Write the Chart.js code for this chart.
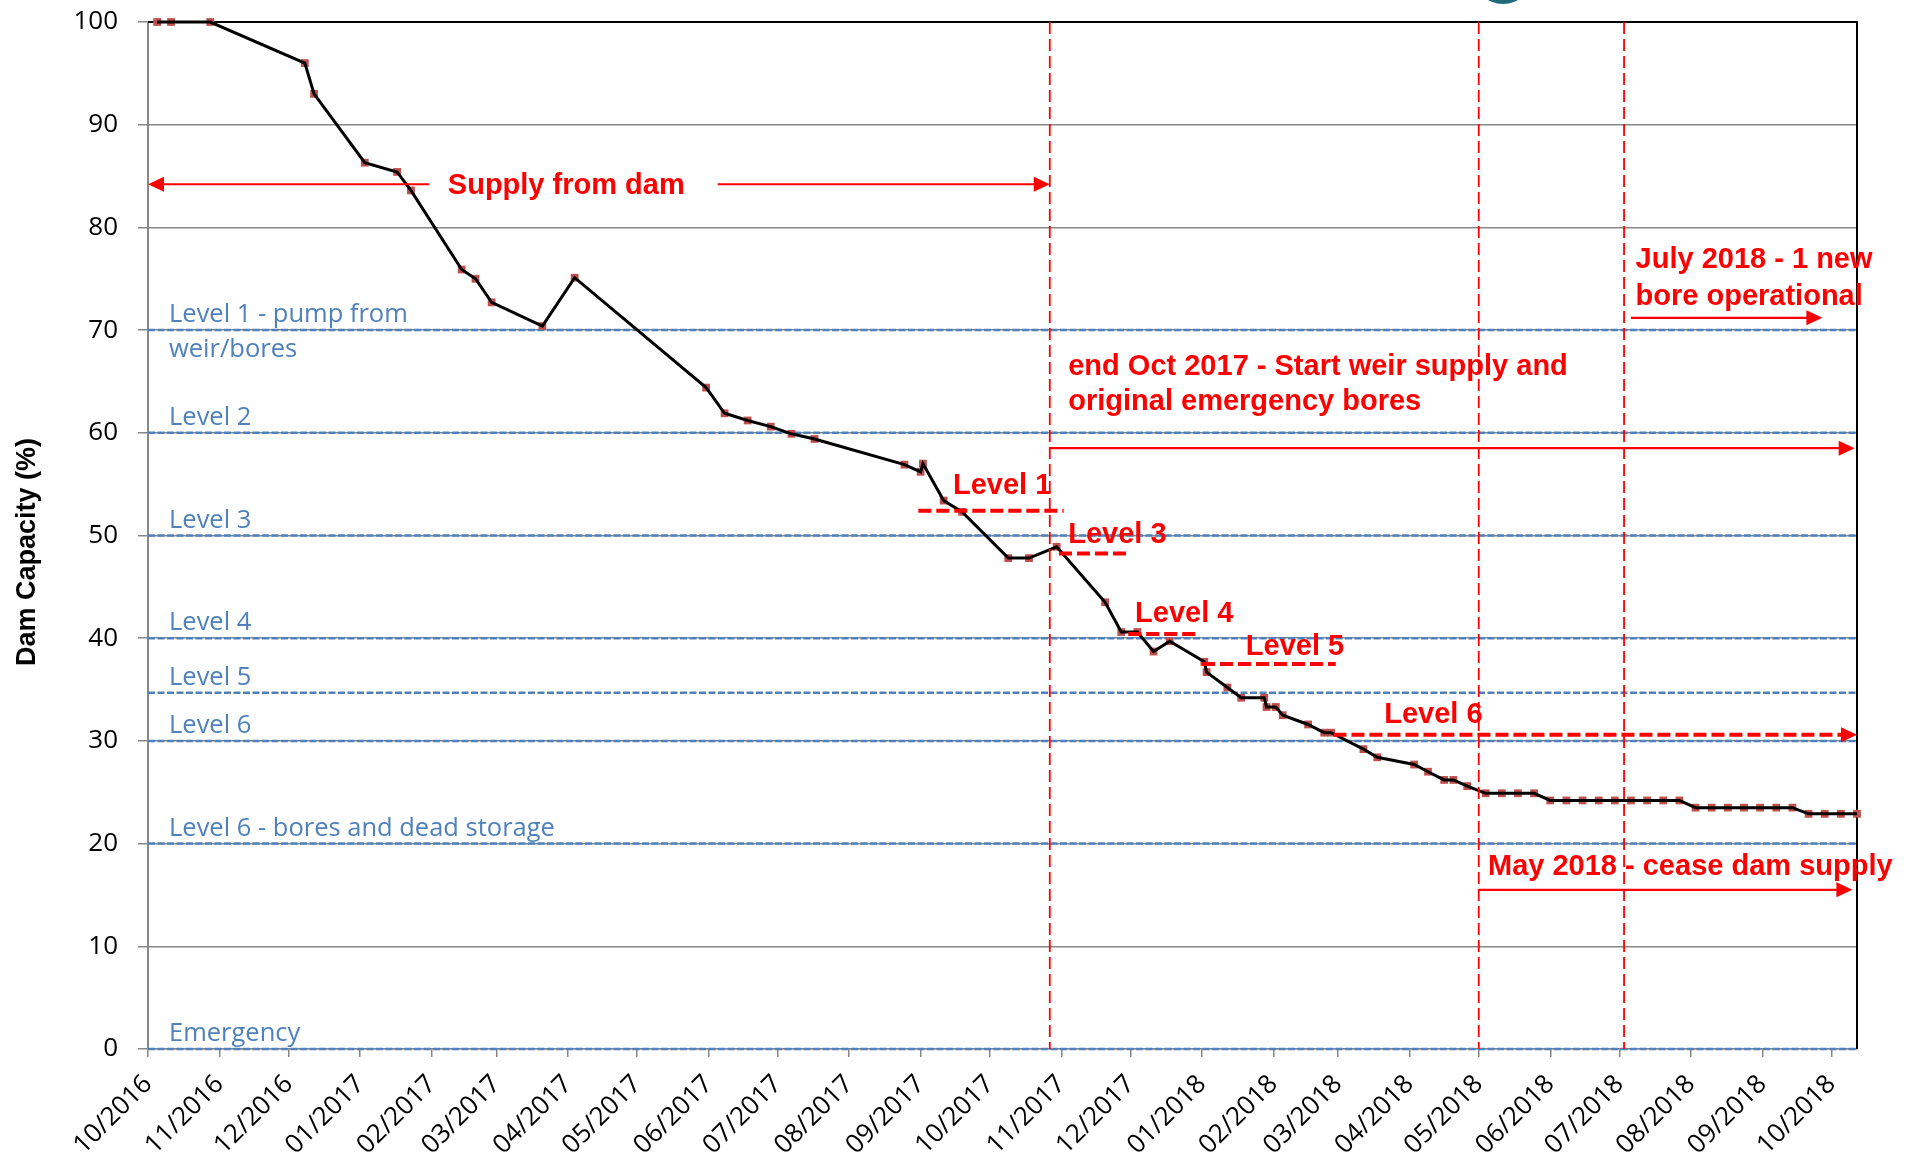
<!DOCTYPE html>
<html>
<head>
<meta charset="utf-8">
<title>Dam Capacity</title>
<script src="https://cdn.jsdelivr.net/npm/chart.js@4.4.1/dist/chart.umd.min.js"></script>
<style>
  html, body { margin: 0; padding: 0; background: #fff; }
  canvas { display: block; }
</style>
</head>
<body>
<canvas id="damChart" width="1915" height="1157"></canvas>
<script>
// reading dates and dam capacity (%)
var readingDates = [
  '2016-10-05', '2016-10-11', '2016-10-28', '2016-12-08', '2016-12-12',
  '2017-01-03', '2017-01-17', '2017-01-23', '2017-02-14', '2017-02-20',
  '2017-02-27', '2017-03-21', '2017-04-04', '2017-05-31', '2017-06-08',
  '2017-06-18', '2017-06-28', '2017-07-07', '2017-07-17', '2017-08-25',
  '2017-09-01', '2017-09-02', '2017-09-11', '2017-09-19', '2017-10-09',
  '2017-10-18', '2017-10-30', '2017-11-20', '2017-11-27', '2017-12-04',
  '2017-12-11', '2017-12-18', '2018-01-02', '2018-01-03', '2018-01-12',
  '2018-01-18', '2018-01-28', '2018-01-29', '2018-02-02', '2018-02-05',
  '2018-02-16', '2018-02-23', '2018-02-26', '2018-03-12', '2018-03-18',
  '2018-04-03', '2018-04-09', '2018-04-16', '2018-04-20', '2018-04-26',
  '2018-05-04', '2018-05-11', '2018-05-18', '2018-05-25',
  '2018-06-01', '2018-06-08', '2018-06-15', '2018-06-22', '2018-06-29',
  '2018-07-06', '2018-07-13', '2018-07-20', '2018-07-27',
  '2018-08-03', '2018-08-10', '2018-08-17', '2018-08-24', '2018-08-31',
  '2018-09-07', '2018-09-14',
  '2018-09-21', '2018-09-28', '2018-10-05', '2018-10-12'
];
var capacity = [
  100, 100, 100, 96.0, 93.0,
  86.3, 85.4, 83.6, 75.9, 75.0,
  72.7, 70.4, 75.1, 64.4, 61.9,
  61.2, 60.6, 59.9, 59.4, 56.9,
  56.2, 57.0, 53.4, 52.3, 47.8,
  47.8, 48.9, 43.5, 40.6, 40.6,
  38.7, 39.7, 37.7, 36.7, 35.2,
  34.2, 34.2, 33.3, 33.3, 32.5,
  31.6, 30.8, 30.8, 29.2, 28.4,
  27.7, 27.0, 26.2, 26.2, 25.6,
  24.9, 24.9, 24.9, 24.9,
  24.2, 24.2, 24.2, 24.2, 24.2,
  24.2, 24.2, 24.2, 24.2,
  23.5, 23.5, 23.5, 23.5, 23.5,
  23.5, 23.5,
  22.9, 22.9, 22.9, 22.9
];

// month ticks on the x axis
var tickLabels = [
  '10/2016', '11/2016', '12/2016', '01/2017', '02/2017', '03/2017', '04/2017',
  '05/2017', '06/2017', '07/2017', '08/2017', '09/2017', '10/2017', '11/2017',
  '12/2017', '01/2018', '02/2018', '03/2018', '04/2018', '05/2018', '06/2018',
  '07/2018', '08/2018', '09/2018', '10/2018'
];

// restriction levels (blue dashed lines)
var levelValues = [70, 60, 50, 40, 34.7, 30, 20, 0];
var levelNames = [
  'Level 1 - pump from\nweir/bores', 'Level 2', 'Level 3', 'Level 4',
  'Level 5', 'Level 6', 'Level 6 - bores and dead storage', 'Emergency'
];

// red notes: vertical markers, text, arrows, level-trigger dashes
var markerDates = ['2017-10-27', '2018-05-01', '2018-07-03'];
var noteText = [
  'Supply from dam',
  'end Oct 2017 - Start weir supply and', 'original emergency bores',
  'July 2018 - 1 new', 'bore operational',
  'May 2018 - cease dam supply',
  'Level 1', 'Level 3', 'Level 4', 'Level 5', 'Level 6'
];
var noteDates = [
  '2017-02-08',
  '2017-11-04', '2017-11-04',
  '2018-07-08', '2018-07-08',
  '2018-05-05',
  '2017-09-15', '2017-11-04', '2017-12-03', '2018-01-20', '2018-03-21'
];
var noteValues = [83.3, 65.6, 62.2, 76.0, 72.4, 16.9, 54.0, 49.25, 41.6, 38.35, 31.7];

var arrowFrom = ['2017-01-31', '2017-06-05', '2017-10-27', '2018-07-06', '2018-05-01', '2018-02-27'];
var arrowTo   = ['2016-10-01', '2017-10-27', '2018-10-11', '2018-09-27', '2018-10-10', '2018-10-12'];
var arrowValues = [84.2, 84.2, 58.5, 71.2, 15.5, 30.6];

var triggerFrom = ['2017-08-31', '2017-10-31', '2017-11-30', '2018-01-01'];
var triggerTo   = ['2017-11-02', '2017-11-30', '2017-12-31', '2018-02-28'];
var triggerValues = [52.4, 48.25, 40.4, 37.5];

var DAY = 86400000;
var BASE = Date.UTC(2016, 9, 1);
function toDay(s) {
  var p = s.split('-').map(Number);
  return (Date.UTC(p[0], p[1] - 1, p[2]) - BASE) / DAY;
}

var tickValues = tickLabels.map(function (l) {
  var p = l.split('/');
  return toDay(p[1] + '-' + p[0] + '-01');
});
var points = readingDates.map(function (d, i) { return { x: toDay(d), y: capacity[i] }; });

var RED = '#FF0000';
var BLUE = '#4F81BD';
var GRID = '#878787';
var redFont = 'bold 29px "Liberation Sans", Arial, sans-serif';
var blueFont = '25.5px "Open Sans", sans-serif';

function seg(ctx, x1, y1, x2, y2, color, width, dash) {
  ctx.save();
  ctx.strokeStyle = color;
  ctx.lineWidth = width;
  ctx.setLineDash(dash || []);
  ctx.beginPath();
  ctx.moveTo(x1, y1);
  ctx.lineTo(x2, y2);
  ctx.stroke();
  ctx.restore();
}

function head(ctx, x, y, dir) {
  ctx.save();
  ctx.fillStyle = RED;
  ctx.beginPath();
  ctx.moveTo(x, y);
  ctx.lineTo(x - dir * 16, y - 7.5);
  ctx.lineTo(x - dir * 16, y + 7.5);
  ctx.closePath();
  ctx.fill();
  ctx.restore();
}

var notesPlugin = {
  id: 'notes',
  beforeDatasetsDraw: function (chart) {
    var ctx = chart.ctx, a = chart.chartArea, y = chart.scales.y;

    // blue level lines + labels
    levelValues.forEach(function (v, i) {
      var py = y.getPixelForValue(v);
      seg(ctx, a.left, py, a.right, py, BLUE, 2.5, [7, 2.5]);
      ctx.save();
      ctx.font = blueFont;
      ctx.fillStyle = BLUE;
      ctx.textAlign = 'left';
      ctx.textBaseline = 'alphabetic';
      levelNames[i].split('\n').forEach(function (t, k) {
        ctx.fillText(t, a.left + 21, py - 8 + k * 35);
      });
      ctx.restore();
    });

    // black plot border top and right
    seg(ctx, a.left, a.top, a.right + 1, a.top, '#000', 2);
    seg(ctx, a.right, a.top, a.right, a.bottom, '#000', 2);
  },
  afterDatasetsDraw: function (chart) {
    var ctx = chart.ctx, a = chart.chartArea, x = chart.scales.x, y = chart.scales.y;

    // vertical dashed date markers
    markerDates.forEach(function (d) {
      var px = x.getPixelForValue(toDay(d));
      seg(ctx, px, a.top, px, a.bottom, RED, 1.8, [12, 5]);
    });

    // level trigger dashes
    triggerValues.forEach(function (v, i) {
      var py = y.getPixelForValue(v);
      seg(ctx, x.getPixelForValue(toDay(triggerFrom[i])), py,
          x.getPixelForValue(toDay(triggerTo[i])), py, RED, 4, [13, 5]);
    });

    // arrows (last one is the dashed Level 6 arrow)
    arrowValues.forEach(function (v, i) {
      var py = y.getPixelForValue(v);
      var x1 = x.getPixelForValue(toDay(arrowFrom[i]));
      var x2 = x.getPixelForValue(toDay(arrowTo[i]));
      var dir = x2 > x1 ? 1 : -1;
      var dashed = i === arrowValues.length - 1;
      seg(ctx, x1, py, x2 - dir * 14, py, RED, dashed ? 4 : 2.2, dashed ? [13, 5] : []);
      head(ctx, x2, py, dir);
    });

    // red text notes
    ctx.save();
    ctx.font = redFont;
    ctx.fillStyle = RED;
    ctx.textAlign = 'left';
    ctx.textBaseline = 'alphabetic';
    noteText.forEach(function (t, i) {
      ctx.fillText(t, x.getPixelForValue(toDay(noteDates[i])), y.getPixelForValue(noteValues[i]));
    });
    ctx.restore();

    // y axis title
    ctx.save();
    ctx.translate(28, 552);
    ctx.rotate(-Math.PI / 2);
    ctx.font = 'bold 27px "Liberation Sans", Arial, sans-serif';
    ctx.fillStyle = '#000';
    ctx.textAlign = 'center';
    ctx.textBaseline = 'middle';
    ctx.fillText('Dam Capacity (%)', 0, 0);
    ctx.restore();

    // bit of the page logo cut by the top edge
    ctx.save();
    ctx.fillStyle = '#1F6B78';
    ctx.beginPath();
    ctx.arc(1503, -26, 30, 0, Math.PI);
    ctx.fill();
    ctx.restore();
  }
};

var ctx = document.getElementById('damChart');
var damChart = new Chart(ctx, {
  type: 'line',
  data: {
    datasets: [{
      label: 'Dam capacity',
      data: points,
      borderColor: '#000',
      borderWidth: 3,
      pointRadius: 0,
      tension: 0,
      clip: false,
      order: 1
    }, {
      label: 'Readings',
      data: points,
      showLine: false,
      pointStyle: 'rect',
      pointRadius: 5.5,
      pointBackgroundColor: '#C0504D',
      pointBorderWidth: 0,
      clip: false,
      order: 2
    }]
  },
  options: {
    responsive: false,
    animation: false,
    devicePixelRatio: 1,
    layout: { padding: { top: 22, right: 58, left: 0, bottom: 0 } },
    plugins: { legend: { display: false }, tooltip: { enabled: false } },
    scales: {
      x: {
        type: 'linear',
        min: 0,
        max: toDay(readingDates[readingDates.length - 1]),
        afterBuildTicks: function (axis) {
          axis.ticks = tickValues.map(function (v) { return { value: v }; });
        },
        afterFit: function (axis) { axis.height = 108; },
        ticks: {
          autoSkip: false,
          minRotation: 45,
          maxRotation: 45,
          padding: 12,
          color: '#000',
          font: { family: 'Open Sans', size: 26 },
          callback: function (v, i) { return tickLabels[i]; }
        },
        grid: { drawOnChartArea: false, tickLength: 8, color: GRID, lineWidth: 1.5 },
        border: { color: GRID, width: 1.5 }
      },
      y: {
        min: 0,
        max: 100,
        afterFit: function (axis) {
          axis.width = 148;
          axis.paddingTop = 0;
          axis.paddingBottom = 0;
        },
        ticks: {
          stepSize: 10,
          padding: 20,
          color: '#000',
          font: { family: 'Open Sans', size: 26 }
        },
        grid: { color: GRID, lineWidth: 1.5, tickLength: 10 },
        border: { color: GRID, width: 2 }
      }
    }
  },
  plugins: [notesPlugin]
});
</script>
</body>
</html>
